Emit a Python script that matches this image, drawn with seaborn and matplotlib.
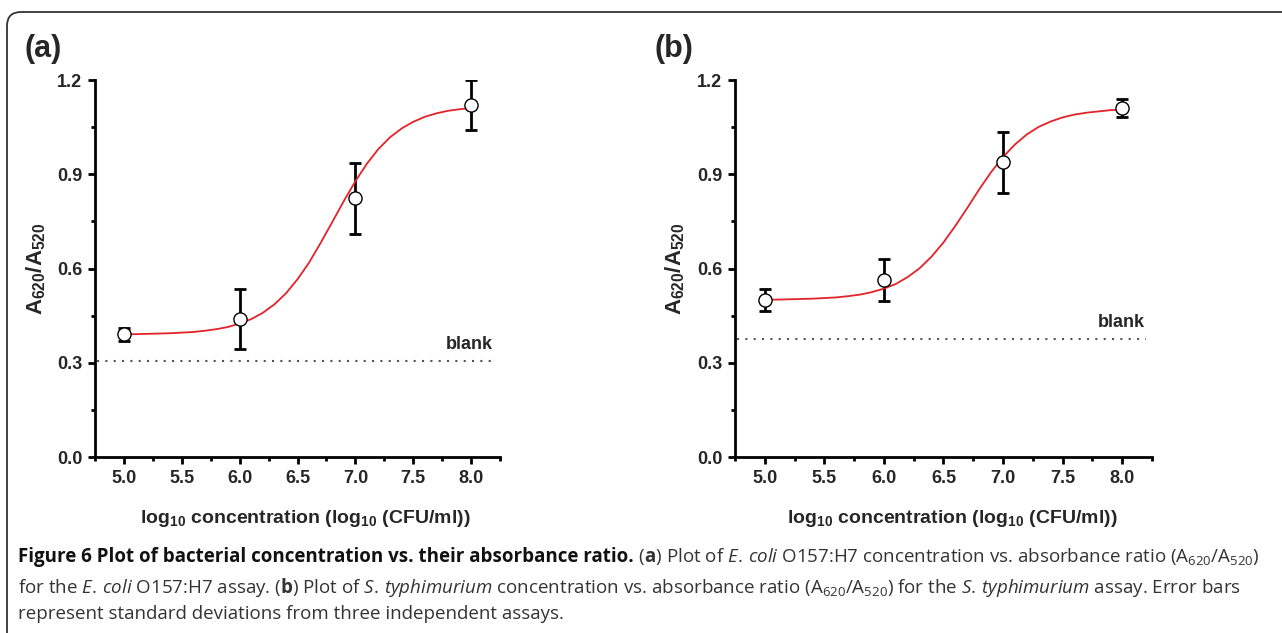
import matplotlib
matplotlib.use("Agg")
import matplotlib.pyplot as plt
import seaborn as sns
import pandas as pd
from matplotlib.patches import FancyBboxPatch
from matplotlib.ticker import MultipleLocator, FormatStrFormatter

# measured points (log10 CFU/ml vs A620/A520) with standard deviations
conc = [5.0, 6.0, 7.0, 8.0]
ratio_a = [0.39, 0.44, 0.823, 1.12]
sd_a = [0.022, 0.095, 0.113, 0.08]
ratio_b = [0.50, 0.563, 0.938, 1.11]
sd_b = [0.035, 0.067, 0.098, 0.028]

# sigmoidal fit curves
fit_x = [5.0, 5.1, 5.2, 5.3, 5.4, 5.5, 5.6, 5.7, 5.8, 5.9, 6.0, 6.1, 6.2, 6.3, 6.4, 6.5,
         6.6, 6.7, 6.8, 6.9, 7.0, 7.1, 7.2, 7.3, 7.4, 7.5, 7.6, 7.7, 7.8, 7.9, 8.0]
fit_a = [0.391, 0.391, 0.392, 0.393, 0.394, 0.396, 0.398, 0.402, 0.407, 0.414, 0.425,
         0.439, 0.459, 0.486, 0.521, 0.566, 0.619, 0.682, 0.748, 0.815, 0.878, 0.934,
         0.981, 1.018, 1.046, 1.067, 1.083, 1.094, 1.102, 1.107, 1.111]
fit_b = [0.501, 0.501, 0.502, 0.503, 0.504, 0.506, 0.508, 0.512, 0.517, 0.525, 0.536,
         0.551, 0.573, 0.601, 0.638, 0.683, 0.736, 0.793, 0.852, 0.907, 0.955, 0.995,
         1.027, 1.051, 1.068, 1.081, 1.090, 1.096, 1.100, 1.104, 1.106]

blank_a = 0.307
blank_b = 0.376

panel_labels = ["(a)", "(b)"]
xlabel = r"log$_{10}$ concentration (log$_{10}$ (CFU/ml))"
ylabel = r"A$_{620}$/A$_{520}$"

caption_title = "Figure 6 Plot of bacterial concentration vs. their absorbance ratio."
caption_rest = (r" ($\mathbf{a}$) Plot of $\mathit{E.\,coli}$ O157:H7 concentration vs. "
                r"absorbance ratio (A$_{620}$/A$_{520}$)")
caption_line2 = (r"for the $\mathit{E.\,coli}$ O157:H7 assay. ($\mathbf{b}$) Plot of "
                 r"$\mathit{S.\,typhimurium}$ concentration vs. absorbance ratio "
                 r"(A$_{620}$/A$_{520}$) for the $\mathit{S.\,typhimurium}$ assay. Error bars")
caption_line3 = "represent standard deviations from three independent assays."

sns.set_theme(style="ticks")
plt.rcParams["font.family"] = ["Liberation Sans", "DejaVu Sans"]
plt.rcParams["mathtext.fontset"] = "custom"
plt.rcParams["mathtext.default"] = "regular"
plt.rcParams["mathtext.rm"] = "Open Sans:normal"
plt.rcParams["mathtext.it"] = "Open Sans:italic:normal"
plt.rcParams["mathtext.bf"] = "Open Sans:bold"

fig = plt.figure(figsize=(12.82, 6.33), dpi=100)
ax_a = fig.add_axes([0.0741, 0.278, 0.316, 0.5956])
ax_b = fig.add_axes([0.5733, 0.278, 0.3253, 0.5956])

panels = [
    (ax_a, ratio_a, sd_a, fit_a, blank_a, 0.33),
    (ax_b, ratio_b, sd_b, fit_b, blank_b, 0.40),
]

for ax, ratio, sd, fit, blank, blank_y in panels:
    pts = pd.DataFrame({"conc": conc, "ratio": ratio})
    curve = pd.DataFrame({"x": fit_x, "y": fit})

    ax.axhline(blank, xmin=0.006, xmax=0.985, color="#555555", lw=1.5,
               ls=(0, (1, 3)), zorder=1)
    ax.errorbar(conc, ratio, yerr=sd, fmt="none", ecolor="black", elinewidth=2,
                capsize=4, capthick=2, zorder=2)
    sns.lineplot(data=curve, x="x", y="y", ax=ax, color="#e3232a", lw=1.3,
                 zorder=3, legend=False)
    sns.scatterplot(data=pts, x="conc", y="ratio", ax=ax, marker="o", s=90,
                    facecolor="white", edgecolor="black", linewidth=1, zorder=4)

    ax.text(8.19, blank_y, "blank", ha="right", va="bottom", fontsize=13,
            fontweight="bold")

    ax.set_xlim(4.75, 8.25)
    ax.set_ylim(0.0, 1.2)
    ax.xaxis.set_major_locator(MultipleLocator(0.5))
    ax.xaxis.set_minor_locator(MultipleLocator(0.25))
    ax.yaxis.set_major_locator(MultipleLocator(0.3))
    ax.yaxis.set_minor_locator(MultipleLocator(0.15))
    ax.xaxis.set_major_formatter(FormatStrFormatter("%.1f"))
    ax.yaxis.set_major_formatter(FormatStrFormatter("%.1f"))
    ax.tick_params(which="major", direction="out", length=5, width=2,
                   labelsize=13, pad=4, color="black")
    ax.tick_params(which="minor", direction="out", length=3, width=2, color="black")
    for lab in ax.get_xticklabels() + ax.get_yticklabels():
        lab.set_fontweight("bold")

    sns.despine(ax=ax)
    for side in ["left", "bottom"]:
        ax.spines[side].set_linewidth(2)
        ax.spines[side].set_color("black")

    ax.set_xlabel(xlabel, fontsize=14, fontweight="bold")
    ax.set_ylabel(ylabel, fontsize=16, fontweight="bold")
    ax.xaxis.set_label_coords(0.52, -0.135)
    ax.yaxis.set_label_coords(-0.115, 0.5)

fig.text(25 / 1282, 1 - 49 / 633, panel_labels[0], fontsize=22, fontweight="bold",
         va="center", ha="left")
fig.text(655 / 1282, 1 - 49 / 633, panel_labels[1], fontsize=22, fontweight="bold",
         va="center", ha="left")

# rounded figure frame, cut off at the right and bottom edges
frame = FancyBboxPatch((0.07, -1.0), 14.0, 7.21, boxstyle="round,pad=0,rounding_size=0.14",
                       transform=fig.dpi_scale_trans, facecolor="none",
                       edgecolor="#333333", lw=1.3)
fig.patches.append(frame)

# caption
cap_size = 13.5
x0 = 18 / 1282
t_title = fig.text(x0, 1 - 562 / 633, caption_title, fontsize=cap_size, family="Open Sans",
                   fontweight="bold", color="#111111", va="baseline", ha="left")
renderer = fig.canvas.get_renderer()
bb = t_title.get_window_extent(renderer)
fig.text(bb.x1 / fig.bbox.width, 1 - 562 / 633, caption_rest, fontsize=cap_size,
         family="Open Sans", color="#333333", va="baseline", ha="left")
fig.text(x0, 1 - 593 / 633, caption_line2, fontsize=cap_size, family="Open Sans",
         color="#333333", va="baseline", ha="left")
fig.text(x0, 1 - 619 / 633, caption_line3, fontsize=cap_size, family="Open Sans",
         color="#333333", va="baseline", ha="left")

fig.savefig("out.png", dpi=100)
